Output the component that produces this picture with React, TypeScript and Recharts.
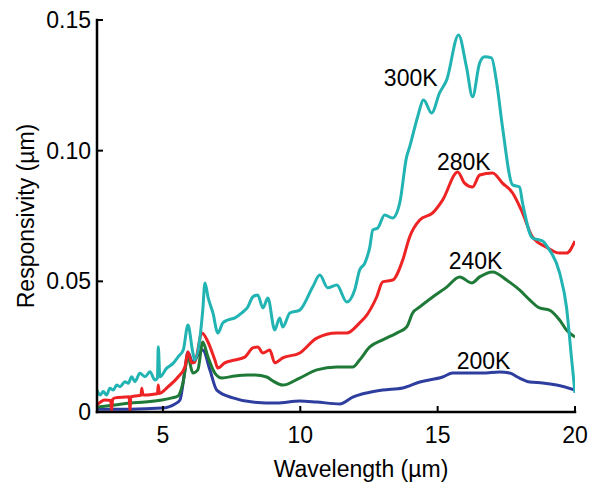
import React from 'react';
import { LineChart, Line, XAxis, YAxis, ReferenceDot } from 'recharts';

// Wavelength (µm) and responsivity values for each temperature
const wl300 = [2.6, 2.71, 2.83, 2.95, 3.07, 3.19, 3.32, 3.44, 3.62, 3.74, 3.86, 3.98, 4.16, 4.35, 4.53, 4.71, 4.8, 4.83, 4.89, 5.13, 5.37, 5.56, 5.74, 5.91, 6.09, 6.16, 6.35, 6.45, 6.53, 6.64, 6.82, 7.0, 7.18, 7.36, 7.62, 7.87, 8.09, 8.27, 8.45, 8.64, 8.82, 9.07, 9.25, 9.36, 9.62, 9.98, 10.45, 10.71, 11.0, 11.33, 11.69, 11.98, 12.16, 12.35, 12.53, 12.64, 12.82, 13.07, 13.36, 13.62, 13.87, 13.98, 14.27, 14.49, 14.78, 15.07, 15.33, 15.76, 16.05, 16.27, 16.53, 16.71, 16.96, 17.15, 17.36, 17.73, 17.98, 18.09, 18.45, 18.82, 19.0, 19.44, 19.69, 19.87, 20.0];
const r300 = [0.0084, 0.0065, 0.0078, 0.0065, 0.0091, 0.0084, 0.0103, 0.0097, 0.0116, 0.011, 0.0135, 0.0116, 0.0148, 0.0135, 0.0154, 0.0122, 0.013, 0.025, 0.0135, 0.0167, 0.0186, 0.0212, 0.0237, 0.0333, 0.0226, 0.0199, 0.0287, 0.039, 0.0494, 0.044, 0.0379, 0.0302, 0.0341, 0.0352, 0.036, 0.0379, 0.0402, 0.044, 0.0448, 0.0398, 0.0436, 0.0314, 0.036, 0.0325, 0.0379, 0.039, 0.0478, 0.0524, 0.0475, 0.0486, 0.0421, 0.0467, 0.0543, 0.057, 0.0631, 0.0697, 0.0704, 0.0754, 0.0742, 0.08, 0.0976, 0.1014, 0.1129, 0.1194, 0.1144, 0.1221, 0.1271, 0.1443, 0.132, 0.1206, 0.1336, 0.1359, 0.1355, 0.1259, 0.1091, 0.0869, 0.0861, 0.08, 0.0666, 0.0654, 0.0631, 0.0532, 0.0402, 0.021, 0.0073];

const wl280 = [2.6, 2.89, 3.1, 3.13, 3.17, 3.25, 3.62, 3.77, 3.8, 3.83, 3.98, 4.2, 4.23, 4.27, 4.35, 4.71, 4.8, 4.83, 4.87, 5.18, 5.55, 5.8, 5.91, 6.05, 6.16, 6.42, 6.64, 6.89, 7.0, 7.25, 7.62, 7.98, 8.27, 8.45, 8.64, 8.89, 9.07, 9.36, 9.98, 10.6, 11.33, 11.69, 12.16, 12.42, 12.78, 13.0, 13.36, 13.73, 13.98, 14.35, 14.82, 15.18, 15.73, 15.98, 16.27, 16.53, 17.0, 17.36, 17.73, 18.09, 18.45, 18.96, 19.44, 19.69, 20.0];
const r280 = [0.0027, 0.0046, 0.0044, 0.0006, 0.0048, 0.0054, 0.0057, 0.0058, 0.0004, 0.0058, 0.0061, 0.0064, 0.0091, 0.0066, 0.0065, 0.0069, 0.007, 0.0103, 0.0071, 0.0096, 0.0134, 0.0172, 0.023, 0.0188, 0.0191, 0.0302, 0.0268, 0.0199, 0.0168, 0.0188, 0.0199, 0.021, 0.0245, 0.0249, 0.0226, 0.0237, 0.0188, 0.0207, 0.0226, 0.0283, 0.0302, 0.0302, 0.0341, 0.0371, 0.044, 0.0498, 0.0505, 0.0582, 0.067, 0.0735, 0.0762, 0.0811, 0.0918, 0.0876, 0.0861, 0.0907, 0.0915, 0.0876, 0.0838, 0.0762, 0.067, 0.0631, 0.0608, 0.0608, 0.0654];

const wl240 = [2.6, 3.25, 3.8, 4.35, 4.96, 5.33, 5.55, 5.73, 5.91, 6.09, 6.27, 6.45, 6.64, 6.89, 7.15, 7.62, 8.09, 8.35, 8.78, 9.0, 9.36, 9.98, 10.6, 11.33, 11.91, 12.16, 12.53, 13.0, 13.51, 13.87, 14.09, 14.35, 14.82, 15.33, 15.8, 16.24, 16.53, 17.0, 17.51, 17.98, 18.35, 18.71, 19.07, 19.44, 19.69, 20.0];
const r240 = [0.0019, 0.0027, 0.0034, 0.0038, 0.0046, 0.0054, 0.0061, 0.0111, 0.021, 0.0149, 0.0161, 0.0268, 0.021, 0.0149, 0.013, 0.0138, 0.0142, 0.0142, 0.0134, 0.0119, 0.0103, 0.013, 0.0161, 0.0172, 0.0172, 0.0199, 0.0249, 0.0276, 0.0302, 0.0325, 0.0379, 0.0402, 0.044, 0.0478, 0.0517, 0.0494, 0.0517, 0.0536, 0.0505, 0.0467, 0.0429, 0.0398, 0.039, 0.0352, 0.0314, 0.0287];

const wl200 = [2.6, 3.8, 4.96, 5.44, 5.62, 5.8, 5.91, 6.09, 6.27, 6.45, 6.71, 6.96, 7.55, 8.27, 9.15, 9.98, 10.6, 11.44, 11.91, 12.42, 13.0, 13.73, 14.35, 15.18, 15.55, 16.64, 17.25, 17.62, 17.98, 18.35, 18.82, 19.33, 20.0];
const r200 = [0.0011, 0.0011, 0.0015, 0.0031, 0.0046, 0.0161, 0.023, 0.0188, 0.0218, 0.0237, 0.0161, 0.0084, 0.0054, 0.0038, 0.0034, 0.0042, 0.0038, 0.0031, 0.0057, 0.0073, 0.0084, 0.0092, 0.0115, 0.0134, 0.0149, 0.0149, 0.0153, 0.0149, 0.013, 0.0115, 0.0111, 0.0103, 0.0084];

const xTicks = [5, 10, 15, 20];
const xTickLabels = ['5', '10', '15', '20'];
const yTicks = [0, 0.05, 0.1, 0.15];
const yTickLabels = ['0', '0.05', '0.10', '0.15'];

const seriesNames = ['200K', '240K', '280K', '300K'];
const seriesColors = ['#2e3e9e', '#1f7a38', '#ed2324', '#22b3b3'];
const labelX = [16.67, 16.38, 15.95, 14.02];
const labelY = [0.0195, 0.0578, 0.0957, 0.1278];

const build = (xs: number[], ys: number[]) => xs.map((x, i) => ({ x, y: ys[i] }));
const seriesData = [build(wl200, r200), build(wl240, r240), build(wl280, r280), build(wl300, r300)];

const FONT = '"Liberation Sans", Arial, Helvetica, sans-serif';
const TICK_LEN = 6;

const BottomTick = (props: any) => {
  const { x, y, payload, index } = props;
  return (
    <g>
      <line x1={x} x2={x} y1={y} y2={y - TICK_LEN} stroke="#000" strokeWidth={2} />
      <text x={x} y={y + 31} textAnchor="middle" fontSize={23} fontFamily={FONT} fill="#000">
        {xTickLabels[index] ?? String(payload.value)}
      </text>
    </g>
  );
};

const TopTick = (props: any) => {
  const { x, y } = props;
  return <line x1={x} x2={x} y1={y} y2={y + TICK_LEN} stroke="#000" strokeWidth={2} />;
};

const LeftTick = (props: any) => {
  const { x, y, payload, index } = props;
  return (
    <g>
      <line x1={x} x2={x + TICK_LEN} y1={y} y2={y} stroke="#000" strokeWidth={2} />
      <text x={x - 6} y={y + 8} textAnchor="end" fontSize={23} fontFamily={FONT} fill="#000">
        {yTickLabels[index] ?? String(payload.value)}
      </text>
    </g>
  );
};

const RightTick = (props: any) => {
  const { x, y } = props;
  return <line x1={x} x2={x - TICK_LEN} y1={y} y2={y} stroke="#000" strokeWidth={2} />;
};

const axisLine = { stroke: '#000', strokeWidth: 2.5, strokeLinecap: 'square' as const };

export default function App() {
  return (
    <div style={{ position: 'absolute', left: 0, top: 0, width: 598, height: 482, background: '#fff' }}>
      <LineChart width={598} height={482} margin={{ top: 20, right: 23, bottom: 0, left: 0 }}>
        <XAxis
          xAxisId="b"
          dataKey="x"
          type="number"
          domain={[2.6, 20]}
          allowDataOverflow
          ticks={xTicks}
          interval={0}
          height={70}
          tickSize={0}
          tickMargin={0}
          tickLine={false}
          axisLine={axisLine}
          tick={BottomTick}
          label={{ value: 'Wavelength (µm)', position: 'insideBottom', offset: 5, dx: 25, fontSize: 23, fill: '#000', fontFamily: FONT }}
        />
        <XAxis
          xAxisId="t"
          orientation="top"
          dataKey="x"
          type="number"
          domain={[2.6, 20]}
          allowDataOverflow
          ticks={xTicks}
          interval={0}
          height={0}
          tickSize={0}
          tickMargin={0}
          tickLine={false}
          axisLine={axisLine}
          tick={TopTick}
        />
        <YAxis
          yAxisId="l"
          type="number"
          domain={[0, 0.15]}
          allowDataOverflow
          ticks={yTicks}
          interval={0}
          width={97}
          tickSize={0}
          tickMargin={0}
          tickLine={false}
          axisLine={axisLine}
          tick={LeftTick}
          label={{ value: 'Responsivity (µm)', angle: -90, position: 'insideLeft', offset: 26, fontSize: 23, fill: '#000', fontFamily: FONT, style: { textAnchor: 'middle' } }}
        />
        <YAxis
          yAxisId="r"
          orientation="right"
          type="number"
          domain={[0, 0.15]}
          allowDataOverflow
          ticks={yTicks}
          interval={0}
          width={0}
          tickSize={0}
          tickMargin={0}
          tickLine={false}
          axisLine={axisLine}
          tick={RightTick}
        />
        {seriesData.map((d, i) => (
          <Line
            key={seriesNames[i]}
            xAxisId="b"
            yAxisId="l"
            data={d}
            dataKey="y"
            type="monotone"
            stroke={seriesColors[i]}
            strokeWidth={3}
            dot={false}
            activeDot={false}
            isAnimationActive={false}
            strokeLinejoin="round"
          />
        ))}
        {seriesNames.map((n, i) => (
          <ReferenceDot
            key={'lbl' + n}
            xAxisId="b"
            yAxisId="l"
            x={labelX[i]}
            y={labelY[i]}
            r={0}
            fill="none"
            stroke="none"
            label={{ value: n, position: 'center', fontSize: 23, fill: '#000', fontFamily: FONT }}
          />
        ))}
      </LineChart>
    </div>
  );
}
